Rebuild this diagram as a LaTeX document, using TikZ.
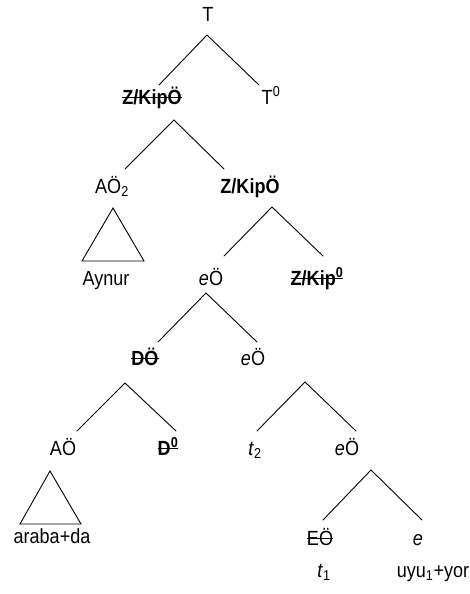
\documentclass[tikz,border=0pt]{standalone}
\usepackage{fontspec}
\setmainfont{Liberation Sans}[FakeStretch=0.88]
\newcommand\strk[1]{\sbox0{#1}\rlap{\rule[.28em]{\wd0}{1.5pt}}\usebox0}
\tikzset{
  lbl/.style={anchor=base, inner sep=0pt, font=\fontsize{20.5}{24}\selectfont},
  br/.style={line width=0.9pt, line cap=round},
}
\begin{document}
\begin{tikzpicture}[x=1pt,y=-1pt]
\useasboundingbox (0,0) rectangle (469,594);
% labels
\node[lbl] (T)   at (208,22)  {T};
\node[lbl] (zk1) at (152,104) {\strk{\bfseries Z/KipÖ}};
\node[lbl] (T0)  at (271,104) {T\textsuperscript{0}};
\node[lbl] (ao2) at (112,193) {AÖ\textsubscript{2}};
\node[lbl] (zk2) at (250,193) {\bfseries Z/KipÖ};
\node[lbl] (ayn) at (106,285) {Aynur};
\node[lbl] (e1)  at (211,285) {\textit{e}Ö};
\node[lbl] (zk3) at (317,285) {\strk{\bfseries Z/Kip\textsuperscript{0}}};
\node[lbl] (do)  at (145,365) {\strk{\bfseries DÖ}};
\node[lbl] (e2)  at (253,365) {\textit{e}Ö};
\node[lbl] (ao)  at (63,455)  {AÖ};
\node[lbl] (d0)  at (168,455) {\strk{\bfseries D\textsuperscript{0}}};
\node[lbl] (t2)  at (255,455) {\textit{t}\textsubscript{2}};
\node[lbl] (e3)  at (347,455) {\textit{e}Ö};
\node[lbl] (ara) at (52,543)  {araba+da};
\node[lbl] (eo)  at (320,545) {\strk{EÖ}};
\node[lbl] (e)   at (418,545) {\textit{e}};
\node[lbl] (t1)  at (324,577) {\textit{t}\textsubscript{1}};
\node[lbl] (uyu) at (433,577) {uyu\textsubscript{1}+yor};
% branch end points
\coordinate (T-bot)   at (207,35);
\coordinate (zk1-top) at (159,85);
\coordinate (T0-top)  at (259,85);
\coordinate (zk1-bot) at (174,120);
\coordinate (ao2-top) at (125,169);
\coordinate (zk2-top) at (224,169);
\coordinate (zk2-bot) at (272,207);
\coordinate (e1-top)  at (224,256);
\coordinate (zk3-top) at (323,256);
\coordinate (e1-bot)  at (206,293);
\coordinate (do-top)  at (158,342);
\coordinate (e2-top)  at (257,342);
\coordinate (do-bot)  at (125,383);
\coordinate (ao-top)  at (77,431);
\coordinate (d0-top)  at (176,431);
\coordinate (e2-bot)  at (305,382);
\coordinate (t2-top)  at (257,431);
\coordinate (e3-top)  at (356,431);
\coordinate (e3-bot)  at (371,470);
\coordinate (eo-top)  at (323,520);
\coordinate (e-top)   at (422,520);
% branches
\draw[br] (zk1-top) -- (T-bot) -- (T0-top);
\draw[br] (ao2-top) -- (zk1-bot) -- (zk2-top);
\draw[br] (e1-top) -- (zk2-bot) -- (zk3-top);
\draw[br] (do-top) -- (e1-bot) -- (e2-top);
\draw[br] (ao-top) -- (do-bot) -- (d0-top);
\draw[br] (t2-top) -- (e2-bot) -- (e3-top);
\draw[br] (eo-top) -- (e3-bot) -- (e-top);
% triangles
\draw[br, line join=miter] (113,208) -- (144,261) -- (82,261) -- cycle;
\draw[br, line join=miter] (50,471) -- (81,524) -- (20,524) -- cycle;
\end{tikzpicture}
\end{document}
